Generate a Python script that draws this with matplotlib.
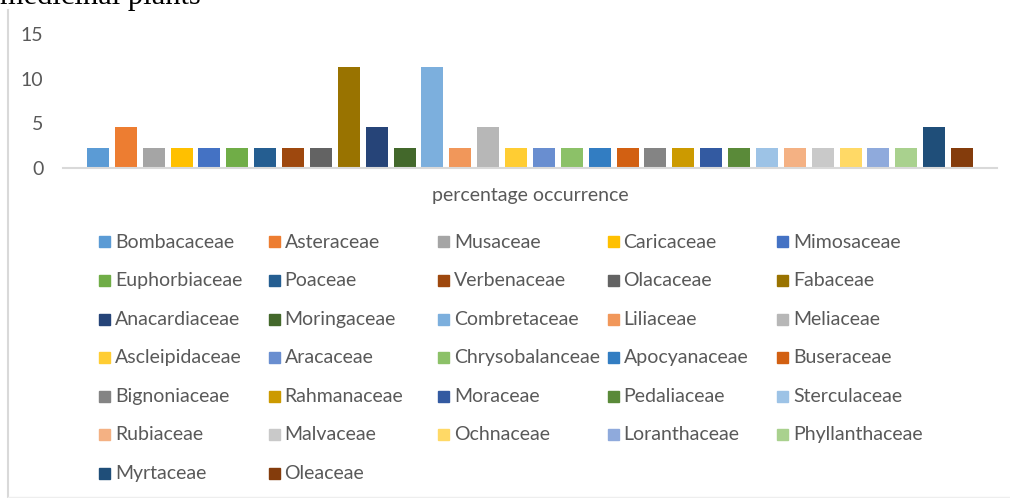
import matplotlib
matplotlib.use("Agg")
import matplotlib.pyplot as plt
from matplotlib.patches import Rectangle
from matplotlib.lines import Line2D

families = ["Bombacaceae", "Asteraceae", "Musaceae", "Caricaceae", "Mimosaceae",
            "Euphorbiaceae", "Poaceae", "Verbenaceae", "Olacaceae", "Fabaceae",
            "Anacardiaceae", "Moringaceae", "Combretaceae", "Liliaceae", "Meliaceae",
            "Ascleipidaceae", "Aracaceae", "Chrysobalanceae", "Apocyanaceae", "Buseraceae",
            "Bignoniaceae", "Rahmanaceae", "Moraceae", "Pedaliaceae", "Sterculaceae",
            "Rubiaceae", "Malvaceae", "Ochnaceae", "Loranthaceae", "Phyllanthaceae",
            "Myrtaceae", "Oleaceae"]

occurrence = [2.27, 4.55, 2.27, 2.27, 2.27,
              2.27, 2.27, 2.27, 2.27, 11.36,
              4.55, 2.27, 11.36, 2.27, 4.55,
              2.27, 2.27, 2.27, 2.27, 2.27,
              2.27, 2.27, 2.27, 2.27, 2.27,
              2.27, 2.27, 2.27, 2.27, 2.27,
              4.55, 2.27]

colors = ["#5B9BD5", "#ED7D31", "#A5A5A5", "#FFC000", "#4472C4",
          "#70AD47", "#255E91", "#9E480E", "#636363", "#997300",
          "#264478", "#43682B", "#7CAFDD", "#F1975A", "#B7B7B7",
          "#FFCD33", "#698ED0", "#8CC168", "#327DC2", "#D26012",
          "#848484", "#CC9A00", "#335AA1", "#5A8A39", "#9DC3E6",
          "#F4B183", "#C9C9C9", "#FFD966", "#8FAADC", "#A9D18E",
          "#1F4E79", "#843C0C"]

yticks = [0, 5, 10, 15]
xlabel = "percentage occurrence"
title = "medicinal plants"

W, H = 1010, 498
grey = "#595959"
fs = 14
plt.rcParams["font.family"] = ["Lato", "DejaVu Sans"]

fig = plt.figure(figsize=(W / 100, H / 100), dpi=100)
ax = fig.add_axes([63 / W, 1 - 168 / H, 934 / W, 134 / H])

n = len(families)
ax.bar(range(n), occurrence, width=0.79, color=colors, zorder=2)
ax.set_xlim(-1.256, n - 1 + 1.256)
ax.set_ylim(0, 15)
ax.set_yticks(yticks)
ax.set_xticks([])
ax.tick_params(axis="y", length=0, pad=14, labelsize=fs, labelcolor=grey)
for s in ["top", "right", "left"]:
    ax.spines[s].set_visible(False)
ax.spines["bottom"].set_color("#D9D9D9")
ax.spines["bottom"].set_linewidth(1.5)

fig.text(530 / W, 1 - 196 / H, xlabel, ha="center", va="center",
         fontsize=fs, color=grey)

# legend, filled row by row in 5 columns
for i, (name, c) in enumerate(zip(families, colors)):
    row, col = divmod(i, 5)
    x0 = 99 + 169.5 * col
    yc = 242 + 38.55 * row
    fig.patches.append(Rectangle((x0 / W, 1 - (yc + 5.5) / H), 11 / W, 11 / H,
                                 transform=fig.transFigure, color=c))
    fig.text((x0 + 16) / W, 1 - yc / H, name, ha="left", va="center",
             fontsize=fs, color=grey)

# chart frame edges and the clipped heading above it
fig.add_artist(Line2D([8 / W, 8 / W], [0, 1 - 10 / H], color="#D9D9D9", lw=1.5))
fig.add_artist(Line2D([8 / W, 1], [1.5 / H, 1.5 / H], color="#EEEEEE", lw=1))
fig.text(0, 1 - 4 / H, title, ha="left", va="baseline", fontsize=22,
         family="Liberation Serif", color="black")

fig.savefig("out.png", dpi=100)
